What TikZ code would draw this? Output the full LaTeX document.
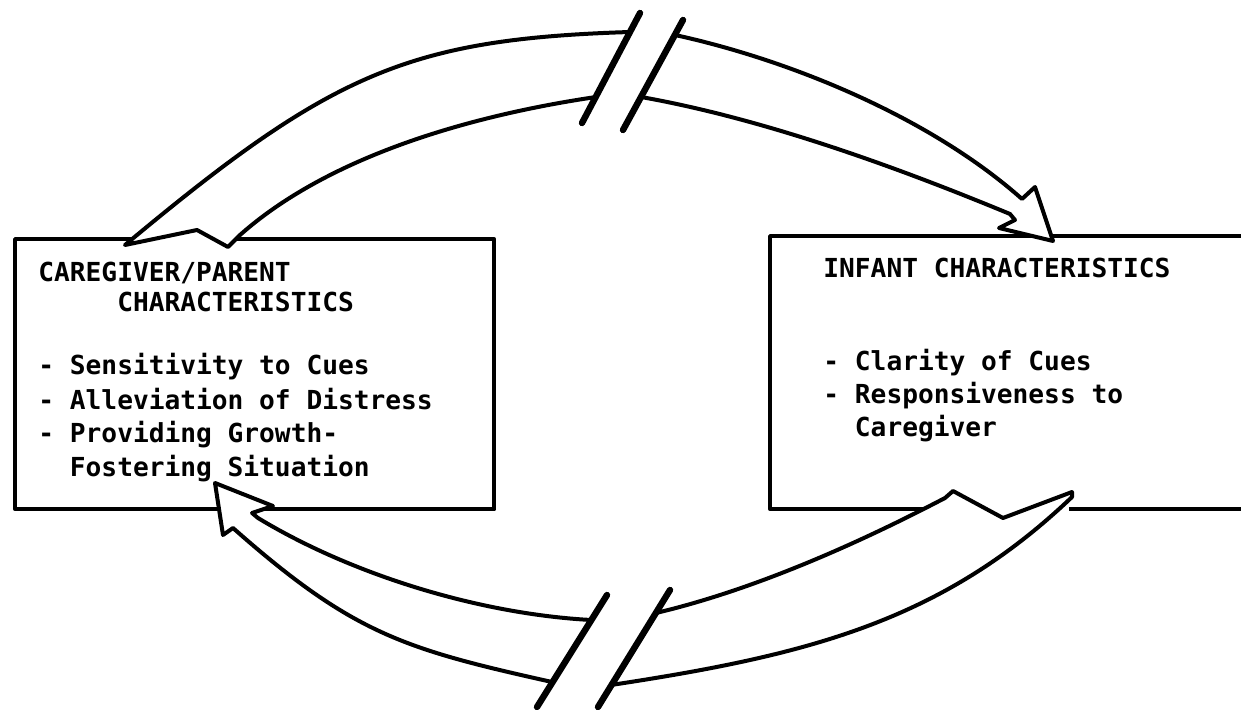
\documentclass[tikz,border=0pt]{standalone}
\usepackage{fontspec}
\setmonofont{DejaVu Sans Mono}
\begin{document}
\begin{tikzpicture}[x=0.5pt,y=-0.5pt, line join=round, line cap=round,
  boxst/.style={draw, line width=2.2pt, inner sep=0pt, anchor=north west},
  arrowst/.style={draw, fill=white, line width=2pt},
  breakst/.style={draw, line width=3.2pt, line cap=round},
  cover/.style={draw=white, line width=3.6pt, line cap=butt},
  txt/.style={anchor=base west, inner sep=0pt, font=\ttfamily\bfseries\fontsize{13.1pt}{16pt}\selectfont}]
\useasboundingbox (0,0) rectangle (1241,710);
\clip (0,0) rectangle (1241,710);
\fill[white] (0,0) rectangle (1241,710);
% boxes
\node[boxst, minimum width=239.5pt, minimum height=135pt] (parent) at (13,237) {};
\node[boxst, minimum width=260pt, minimum height=136.5pt] (infant) at (768,234) {};
% gaps in box lines under arrow tails
\draw[cover] (132,237) -- (237,237);
\draw[cover] (948,507) -- (1069,507);
% top arrow, left piece (tail on parent box)
\coordinate (tA) at (125,245);
\coordinate (tB) at (630,32);
\coordinate (tC) at (596,97);
\coordinate (tD) at (240,235);
\draw[arrowst] (tA) .. controls (331,73) and (408,39) .. (tB) -- (tC)
  .. controls (474,115) and (330,155) .. (tD) -- (228,247) -- (197,230) -- cycle;
% top arrow, right piece (head on infant box)
\coordinate (hA) at (675,35);
\coordinate (hB) at (1022,199);
\coordinate (hTip) at (1053,241);
\coordinate (hC) at (1010,214);
\coordinate (hD) at (641,97);
\draw[arrowst] (hA) .. controls (794,61) and (932,119) .. (hB) -- (1035,187) -- (hTip)
  -- (999,228) -- (1015,220) -- (hC) .. controls (899,168) and (765,119) .. (hD) -- cycle;
% top break marks
\draw[breakst] (640,13) -- (582,123);
\draw[breakst] (683,20) -- (623,130);
% bottom arrow, left piece (head on parent box)
\coordinate (bTip) at (215,483);
\coordinate (bA) at (233,528);
\coordinate (bB) at (552,682);
\coordinate (bC) at (591,620);
\coordinate (bD) at (258,518);
\draw[arrowst] (bTip) -- (223,535) -- (bA) .. controls (353,634) and (404,649) .. (bB)
  -- (bC) .. controls (480,614) and (352,575) .. (bD) -- (252,513) -- (273,506) -- cycle;
% bottom arrow, right piece (tail on infant box)
\coordinate (rA) at (611,685);
\coordinate (rB) at (1072,497);
\coordinate (rC) at (945,498);
\coordinate (rD) at (656,613);
\draw[arrowst] (rA) .. controls (809,655) and (942,621) .. (rB) -- (1072,492) -- (1003,518)
  -- (953,491) -- (rC) .. controls (855,545) and (753,590) .. (rD) -- cycle;
% bottom break marks
\draw[breakst] (607,595) -- (537,707);
\draw[breakst] (670,590) -- (598,707);
% texts
\node[txt] (p1) at (38,282) {CAREGIVER/PARENT};
\node[txt] (p2) at (38,312) {\phantom{CAREG}CHARACTERISTICS};
\node[txt] (p3) at (38,375) {- Sensitivity to Cues};
\node[txt] (p4) at (38,410) {- Alleviation of Distress};
\node[txt] (p5) at (38,443) {- Providing Growth-};
\node[txt] (p6) at (38,477) {\phantom{-}\ Fostering Situation};
\node[txt] (i1) at (823,278) {INFANT CHARACTERISTICS};
\node[txt] (i2) at (823,371) {- Clarity of Cues};
\node[txt] (i3) at (823,404) {- Responsiveness to};
\node[txt] (i4) at (823,437) {\phantom{-}\ Caregiver};
\end{tikzpicture}
\end{document}
